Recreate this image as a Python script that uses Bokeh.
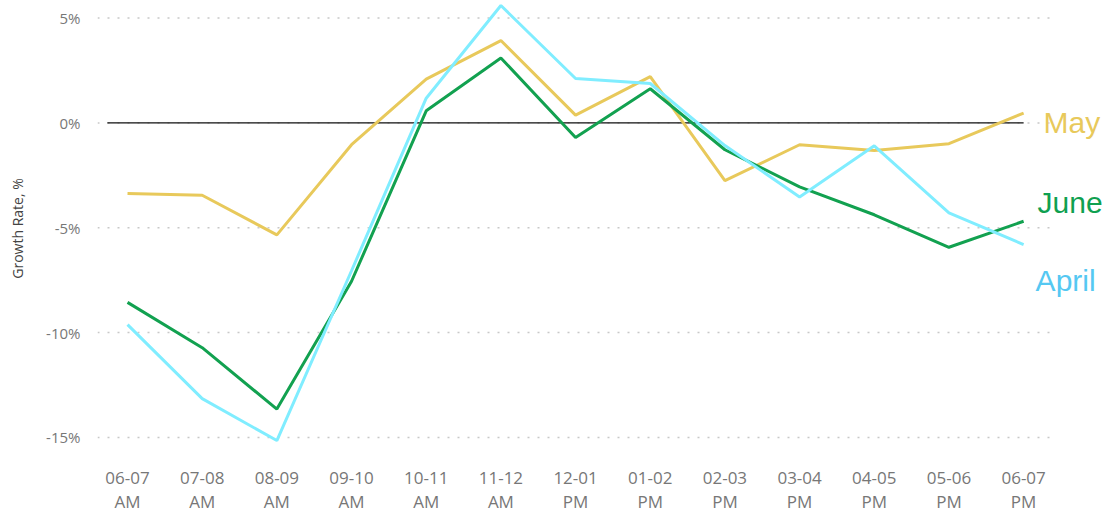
from bokeh.plotting import figure
from bokeh.models import FixedTicker, Range1d
from bokeh.core.properties import value
from bokeh.embed import file_html
from bokeh.resources import INLINE

hours = ["06-07\nAM", "07-08\nAM", "08-09\nAM", "09-10\nAM", "10-11\nAM", "11-12\nAM",
         "12-01\nPM", "01-02\nPM", "02-03\nPM", "03-04\nPM", "04-05\nPM", "05-06\nPM", "06-07\nPM"]
may = [-3.37, -3.45, -5.34, -1.04, 2.09, 3.93, 0.37, 2.21, -2.75, -1.04, -1.32, -0.99, 0.47]
june = [-8.56, -10.72, -13.65, -7.55, 0.58, 3.1, -0.69, 1.63, -1.28, -3.05, -4.38, -5.93, -4.69]
april = [-9.62, -13.15, -15.15, -7.05, 1.18, 5.6, 2.12, 1.88, -1.08, -3.53, -1.09, -4.29, -5.8]
y_ticks = [-15, -10, -5, 0, 5]
y_tick_labels = ["-15%", "-10%", "-5%", "0%", "5%"]
series_names = ["May", "June", "April"]

xs = list(range(len(hours)))

p = figure(width=1109, height=515, output_backend="svg", toolbar_location=None,
           x_range=Range1d(-0.402, 13.15), y_range=Range1d(-15.91, 5.84),
           min_border_left=97, min_border_right=0, min_border_top=0, min_border_bottom=53)
p.outline_line_color = None
p.background_fill_color = "white"
p.border_fill_color = "white"

# grid lines drawn as segments so that the frame can extend to the labels
p.xgrid.grid_line_color = None
p.ygrid.grid_line_color = None
gx0 = [-0.402] * len(y_ticks)
gx1 = [12.43] * len(y_ticks)
p.segment(x0=gx0, y0=y_ticks, x1=gx1, y1=y_ticks, line_color="#c8c8c8",
          line_width=1.5, line_dash="2 8")
p.segment(x0=[-0.27], y0=[0], x1=[xs[-1]], y1=[0], line_color="#111111", line_width=1.3)

colors = {"May": "#E8C95B", "June": "#12A150", "April": "#80EDFF"}
text_colors = {"May": "#E8C95B", "June": "#0FA050", "April": "#55C8F2"}
data = {"May": may, "June": june, "April": april}
for name in series_names:
    p.line(xs, data[name], line_color=colors[name], line_width=3)

x_off = {"May": 20, "June": 14, "April": 12}
y_off = {"May": 9, "June": -19, "April": 36}
for name in series_names:
    p.text(x=[xs[-1]], y=[data[name][-1]], text=[name], x_offset=x_off[name],
           y_offset=y_off[name], text_color=text_colors[name],
           text_font=value("Liberation Sans"), text_font_size="30px",
           text_baseline="middle", text_align="left")

p.xaxis.ticker = FixedTicker(ticks=xs)
p.xaxis.major_label_overrides = {i: h for i, h in enumerate(hours)}
p.yaxis.ticker = FixedTicker(ticks=y_ticks)
p.yaxis.major_label_overrides = {t: l for t, l in zip(y_ticks, y_tick_labels)}

for ax in (p.xaxis, p.yaxis):
    ax.axis_line_color = None
    ax.major_tick_line_color = None
    ax.minor_tick_line_color = None
    ax.major_tick_out = 0
    ax.major_tick_in = 0
    ax.minor_tick_out = 0
    ax.minor_tick_in = 0
    ax.major_label_text_color = "#777777"
    ax.major_label_text_font = "Open Sans"

p.xaxis.major_label_text_font_size = "17px"
p.xaxis.major_label_text_line_height = 1.05
p.xaxis.major_label_standoff = 9
p.yaxis.major_label_text_font_size = "15px"
p.yaxis.major_label_standoff = 17
p.yaxis.axis_label = "Growth Rate, %"
p.yaxis.axis_label_text_font = "Open Sans"
p.yaxis.axis_label_text_font_size = "14px"
p.yaxis.axis_label_text_font_style = "normal"
p.yaxis.axis_label_text_color = "#444444"
p.yaxis.axis_label_standoff = 16

open("out.html", "w").write(file_html(p, INLINE))
